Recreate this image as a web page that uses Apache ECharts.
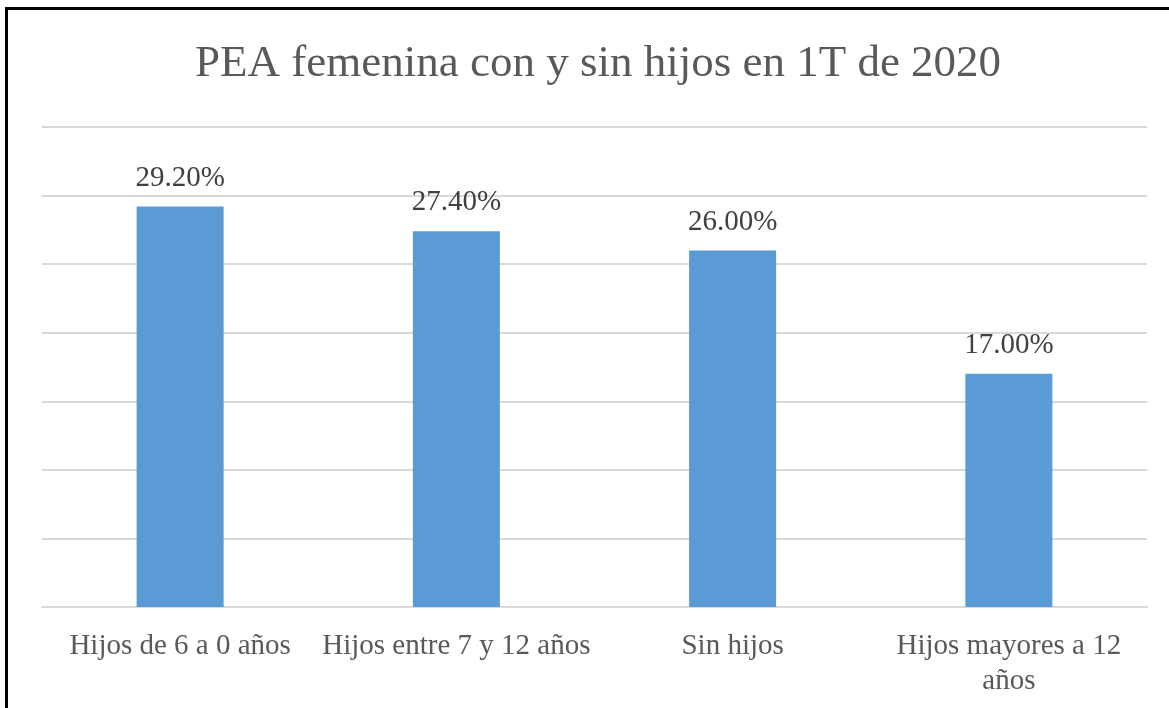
<!DOCTYPE html>
<html>
<head>
    <meta charset="utf-8">
    <title>PEA femenina</title>
    <style>
        html, body {
            margin: 0;
            padding: 0;
            background: #fff;
            overflow: hidden;
        }
        .frame {
            position: absolute;
            left: 5px;
            top: 7px;
            width: 1200px;
            height: 800px;
            border-left: 3px solid #000;
            border-top: 3px solid #000;
        }
        #main {
            position: absolute;
            left: 0;
            top: 0;
            width: 1169px;
            height: 708px;
        }
    </style>
</head>
<body>
<div class="frame"></div>
<div id="main"></div>

<script src="https://cdn.jsdelivr.net/npm/echarts@6/dist/echarts.min.js"></script>
<script>
    var categories = ['Hijos de 6 a 0 años', 'Hijos entre 7 y 12 años', 'Sin hijos', 'Hijos mayores a 12\naños'];
    var values = [29.2, 27.4, 26.0, 17.0];

    var serif = '"Liberation Serif", "Times New Roman", serif';
    var myChart = echarts.init(document.getElementById('main'));
    myChart.setOption({
        title: {
            text: 'PEA femenina con y sin hijos en 1T de 2020',
            left: 190,
            top: 37,
            textStyle: {
                fontFamily: serif,
                fontSize: 45,
                fontWeight: 'normal',
                color: '#595959'
            }
        },
        grid: {
            left: 42,
            right: 22,
            top: 127,
            bottom: 101
        },
        xAxis: {
            type: 'category',
            data: categories,
            axisLine: { lineStyle: { color: '#d9d9d9', width: 2 } },
            axisTick: { show: false },
            axisLabel: {
                interval: 0,
                margin: 22,
                fontFamily: serif,
                fontSize: 29,
                lineHeight: 35,
                color: '#595959'
            }
        },
        yAxis: {
            type: 'value',
            min: 0,
            max: 35,
            interval: 5,
            axisLabel: { show: false },
            axisLine: { show: false },
            axisTick: { show: false },
            splitLine: { lineStyle: { color: '#d9d9d9', width: 2 } }
        },
        series: [
            {
                type: 'bar',
                data: values,
                barWidth: 87,
                itemStyle: { color: '#5b9bd5' },
                label: {
                    show: true,
                    position: 'top',
                    distance: 14,
                    fontFamily: serif,
                    fontSize: 29,
                    color: '#404040',
                    formatter: function (p) {
                        return p.value.toFixed(2) + '%';
                    }
                }
            }
        ]
    });
</script>
</body>
</html>
